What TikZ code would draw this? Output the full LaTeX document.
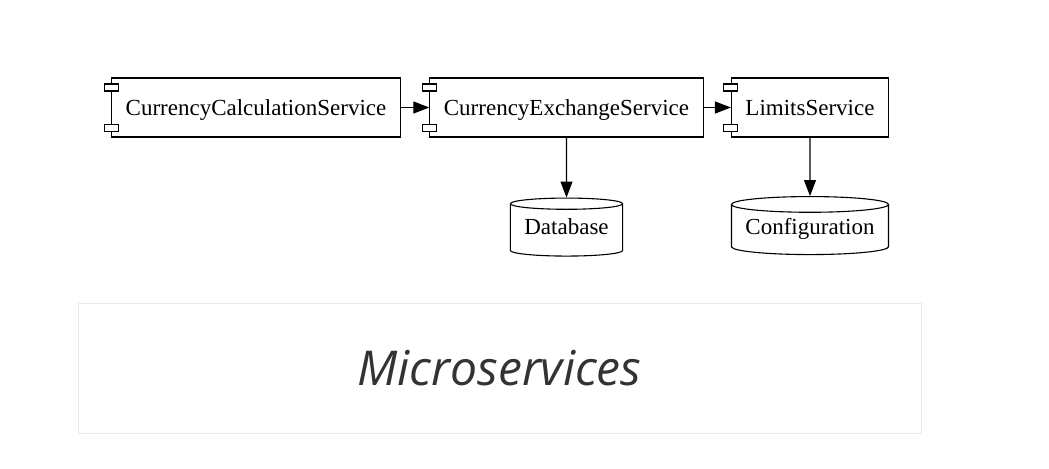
\documentclass[tikz,border=0pt]{standalone}
\usepackage{fontspec}
\setmainfont{Liberation Serif}
\newfontfamily\titlefont{Open Sans}
\usetikzlibrary{arrows.meta, positioning, shapes.geometric}

\begin{document}
\begin{tikzpicture}[x=0.5pt,y=-0.5pt,on grid,>={Triangle[length=8pt,width=6pt]},
    every node/.style={font=\fontsize{11.5}{14}\selectfont},
    service/.style={draw,inner xsep=7pt,text height=9.5pt,text depth=2pt,minimum height=29.5pt,line width=0.55pt},
    store/.style={draw,cylinder,shape border rotate=90,aspect=0.1,inner xsep=7pt,inner ysep=0pt,text height=9.5pt,text depth=7pt,minimum height=29pt,line width=0.55pt}]
  \useasboundingbox (0,0) rectangle (1049,468);
  \node[service] (calc) at (256,107.5) {CurrencyCalculationService};
  \node[service] (exch) [right=155.25pt of calc] {CurrencyExchangeService};
  \node[service] (limits) [right=121.75pt of exch] {LimitsService};
  \node[store] (db) [below=62.25pt of exch] {Database};
  \node[store] (config) [below=62.25pt of limits] {Configuration};
  \foreach \s in {calc,exch,limits}
    \draw[fill=white,line width=0.55pt] ([yshift=-5pt]\s.north west) +(-3.5pt,-1.75pt) rectangle +(3.5pt,1.75pt)
      ([yshift=5pt]\s.south west) +(-3.5pt,-1.75pt) rectangle +(3.5pt,1.75pt);
  \path[->,line width=0.55pt] (calc) edge (exch) (exch) edge (limits) (exch) edge (db) (limits) edge (config);
  \node[draw=black!8,minimum width=421.5pt,minimum height=65pt,font=\titlefont\itshape\fontsize{24}{28}\selectfont,text=black!80] (title) at (499.5,368) {Microservices};
\end{tikzpicture}
\end{document}
